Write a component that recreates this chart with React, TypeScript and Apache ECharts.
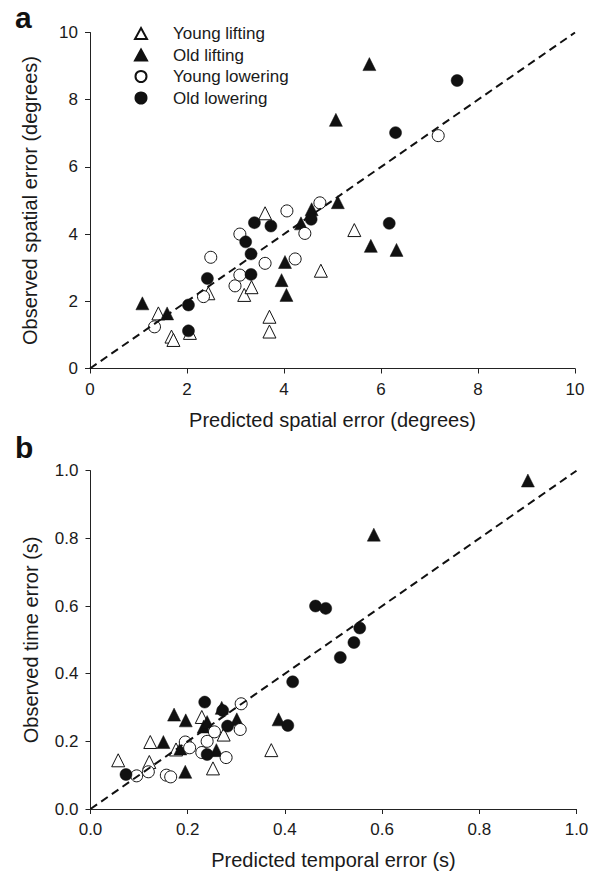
import React, { useEffect, useRef } from "react";
import * as echarts from "echarts";

// ---- Data ----
const seriesNames = ["Young lifting", "Old lifting", "Young lowering", "Old lowering"];

const spatialTicks = [0, 2, 4, 6, 8, 10];
const temporalTicks = [0, 0.2, 0.4, 0.6, 0.8, 1.0];

const spatialYoungLifting = [[1.41, 1.64], [1.68, 0.95], [1.72, 0.85], [2.06, 1.06], [2.44, 2.24], [3.18, 2.19], [3.33, 2.42], [3.61, 4.62], [3.70, 1.54], [3.70, 1.10], [5.45, 4.12], [4.76, 2.91]];
const spatialOldLifting = [[1.08, 1.94], [1.59, 1.64], [4.02, 3.17], [3.95, 2.63], [4.05, 2.19], [4.35, 4.32], [4.57, 4.74], [5.11, 4.95], [5.79, 3.65], [6.32, 3.53], [5.07, 7.40], [5.76, 9.06]];
const spatialYoungLowering = [[1.33, 1.24], [2.34, 2.14], [2.49, 3.31], [2.99, 2.46], [3.09, 2.78], [3.09, 4.00], [3.61, 3.13], [4.06, 4.69], [4.43, 4.02], [4.23, 3.26], [4.74, 4.93], [7.18, 6.93]];
const spatialOldLowering = [[2.03, 1.12], [2.03, 1.89], [2.42, 2.68], [3.32, 2.80], [3.32, 3.41], [3.21, 3.77], [3.39, 4.34], [3.73, 4.24], [4.56, 4.44], [6.17, 4.32], [6.30, 7.02], [7.57, 8.57]];

const temporalYoungLifting = [[0.057, 0.144], [0.121, 0.139], [0.123, 0.198], [0.176, 0.176], [0.229, 0.272], [0.274, 0.220], [0.252, 0.120], [0.372, 0.174]];
const temporalOldLifting = [[0.150, 0.198], [0.172, 0.279], [0.196, 0.262], [0.185, 0.179], [0.195, 0.110], [0.233, 0.244], [0.240, 0.257], [0.259, 0.174], [0.270, 0.299], [0.301, 0.265], [0.387, 0.265], [0.583, 0.811], [0.900, 0.971]];
const temporalYoungLowering = [[0.095, 0.098], [0.119, 0.110], [0.156, 0.100], [0.165, 0.095], [0.195, 0.198], [0.204, 0.181], [0.229, 0.167], [0.240, 0.200], [0.255, 0.228], [0.279, 0.152], [0.308, 0.235], [0.310, 0.311]];
const temporalOldLowering = [[0.073, 0.102], [0.235, 0.316], [0.272, 0.291], [0.282, 0.245], [0.240, 0.161], [0.406, 0.247], [0.416, 0.376], [0.463, 0.600], [0.484, 0.593], [0.514, 0.448], [0.542, 0.492], [0.554, 0.535]];

const identitySpatial = [[0, 0], [10, 10]];
const identityTemporal = [[0, 0], [1, 1]];

const FONT = "'Liberation Sans', Arial, Helvetica, sans-serif";
const INK = "#111";

const styles = [
  { symbol: "triangle", symbolSize: 13, itemStyle: { color: "#fff", borderColor: INK, borderWidth: 1, opacity: 1 } },
  { symbol: "triangle", symbolSize: 13, itemStyle: { color: INK, borderColor: INK, borderWidth: 0.5, opacity: 1 } },
  { symbol: "circle", symbolSize: 12, itemStyle: { color: "#fff", borderColor: INK, borderWidth: 1, opacity: 1 } },
  { symbol: "circle", symbolSize: 12, itemStyle: { color: INK, borderColor: INK, borderWidth: 0.5, opacity: 1 } },
];

function axisBase(min: number, max: number, interval: number, name: string, isY: boolean, idx: number, digits: number) {
  return {
    type: "value",
    gridIndex: idx,
    min,
    max,
    interval,
    name,
    nameLocation: "middle",
    nameGap: isY ? 50 : 41,
    nameTextStyle: { fontFamily: FONT, fontSize: 20, color: "#1a1a1a" },
    axisLine: { show: true, onZero: false, lineStyle: { color: "#222", width: 1 } },
    axisTick: { show: true, inside: false, length: 5, lineStyle: { color: "#222", width: 1 } },
    axisLabel: {
      fontFamily: FONT,
      fontSize: 17,
      color: "#1a1a1a",
      margin: isY ? 12 : 12,
      formatter: (v: number) => v.toFixed(digits),
    },
    splitLine: { show: false },
  };
}

export default function App() {
  const ref = useRef<HTMLDivElement>(null);
  useEffect(() => {
    if (!ref.current) return;
    const chart = echarts.init(ref.current, undefined, { renderer: "svg" });
    const spatialSets = [spatialYoungLifting, spatialOldLifting, spatialYoungLowering, spatialOldLowering];
    const temporalSets = [temporalYoungLifting, temporalOldLifting, temporalYoungLowering, temporalOldLowering];
    const series: any[] = [];
    spatialSets.forEach((d, i) => {
      series.push({ type: "scatter", name: seriesNames[i], xAxisIndex: 0, yAxisIndex: 0, data: d, ...styles[i], z: 2 + i });
    });
    temporalSets.forEach((d, i) => {
      series.push({ type: "scatter", name: seriesNames[i], xAxisIndex: 1, yAxisIndex: 1, data: d, ...styles[i], z: 2 + i });
    });
    series.push({
      type: "line", name: "identity-a", xAxisIndex: 0, yAxisIndex: 0, data: identitySpatial, symbol: "none", silent: true, z: 10,
      lineStyle: { color: INK, width: 2, type: [8, 5] },
    });
    series.push({
      type: "line", name: "identity-b", xAxisIndex: 1, yAxisIndex: 1, data: identityTemporal, symbol: "none", silent: true, z: 10,
      lineStyle: { color: INK, width: 2, type: [8, 5] },
    });

    chart.setOption({
      animation: false,
      backgroundColor: "#fff",
      grid: [
        { left: 90, top: 32.5, width: 485, height: 336 },
        { left: 90.5, top: 470.7, width: 486, height: 340 },
      ],
      xAxis: [
        axisBase(0, 10, 2, "Predicted spatial error (degrees)", false, 0, 0),
        axisBase(0, 1, 0.2, "Predicted temporal error (s)", false, 1, 1),
      ],
      yAxis: [
        axisBase(0, 10, 2, "Observed spatial error (degrees)", true, 0, 0),
        axisBase(0, 1, 0.2, "Observed time error (s)", true, 1, 1),
      ],
      legend: {
        data: seriesNames,
        orient: "vertical",
        left: 129,
        top: 20,
        itemWidth: 12,
        itemHeight: 11,
        itemGap: 4.5,
        symbolKeepAspect: true,
        selectedMode: false,
        textStyle: { fontFamily: FONT, fontSize: 17, color: "#1a1a1a", padding: [0, 0, 0, 21] },
      },
      graphic: [
        { type: "text", left: 15, top: 2, style: { text: "a", fontFamily: FONT, fontSize: 30, fontWeight: "bold", fill: "#111" } },
        { type: "text", left: 15, top: 432, style: { text: "b", fontFamily: FONT, fontSize: 30, fontWeight: "bold", fill: "#111" } },
      ],
      series,
    });
    return () => chart.dispose();
  }, []);
  return (
    <div
      ref={ref}
      style={{ position: "fixed", left: 0, top: 0, width: 599, height: 871, background: "#fff" }}
    />
  );
}
